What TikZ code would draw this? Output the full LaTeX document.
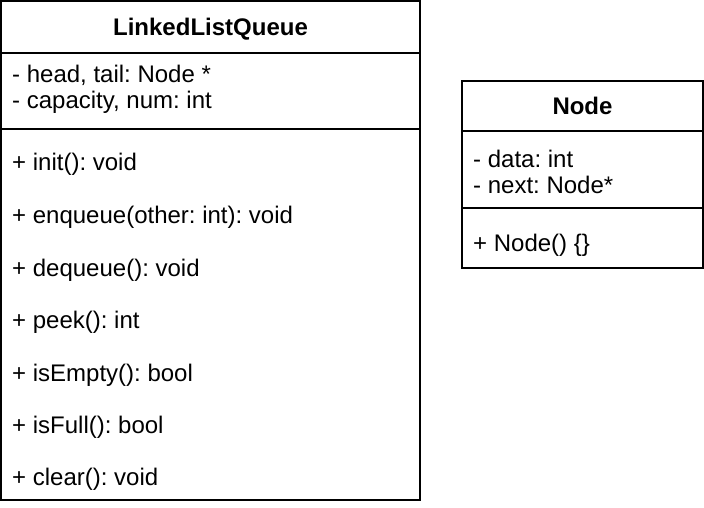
\documentclass[tikz,border=0pt]{standalone}
\usepackage{fontspec}
\setmainfont{Liberation Sans}
\frenchspacing
\begin{document}
\begin{tikzpicture}[x=1pt,y=-1pt,
  txt/.style={anchor=base west,inner sep=0pt,font=\fontsize{24}{26}\selectfont},
  ttl/.style={anchor=base,inner sep=0pt,font=\fontsize{24}{26}\selectfont\bfseries},
  frame/.style={draw=black,line width=2pt}]
\useasboundingbox (0,0) rectangle (704,508);
% LinkedListQueue class
\draw[frame] (1,1) rectangle (420,500);
\draw[frame] (1,53) -- (420,53);
\draw[frame] (1,129) -- (420,129);
\node[ttl] (qt) at (210.5,36) {LinkedListQueue};
\node[txt] (qa1) at (12,83) {- head, tail: Node *};
\node[txt] (qa2) at (12,109) {- capacity, num: int};
\node[txt] (qm1) at (12,171) {+ init(): void};
\node[txt] (qm2) at (12,223.5) {+ enqueue(other: int): void};
\node[txt] (qm3) at (12,276) {+ dequeue(): void};
\node[txt] (qm4) at (12,328.5) {+ peek(): int};
\node[txt] (qm5) at (12,381) {+ isEmpty(): bool};
\node[txt] (qm6) at (12,433) {+ isFull(): bool};
\node[txt] (qm7) at (12,485) {+ clear(): void};
% Node class
\draw[frame] (462,81) rectangle (703,268);
\draw[frame] (462,131) -- (703,131);
\draw[frame] (462,208) -- (703,208);
\node[ttl] (nt) at (582.5,115) {Node};
\node[txt] (na1) at (473,167.5) {- data: int};
\node[txt] (na2) at (473,193.5) {- next: Node*};
\node[txt] (nm1) at (473,251) {+ Node() \{\}};
\end{tikzpicture}
\end{document}
